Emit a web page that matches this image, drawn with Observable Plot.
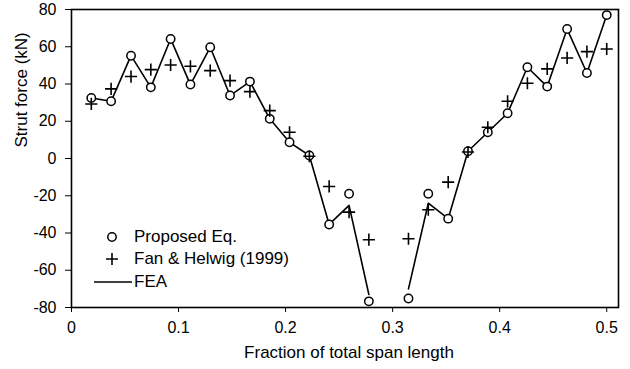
<!DOCTYPE html>
<html><head><meta charset="utf-8">
<script src="https://cdn.jsdelivr.net/npm/d3@7"></script>
<script src="https://cdn.jsdelivr.net/npm/@observablehq/plot@0.6"></script>
<style>
body{margin:0;background:#fff;}
#wrap{position:relative;width:630px;height:369px;font-family:"Liberation Sans",Arial,sans-serif;}
.row{position:absolute;display:flex;align-items:center;height:20px;font-size:17px;color:#000;white-space:nowrap;}
.row svg{display:block;}
</style></head><body><div id="wrap"></div>
<script>
// Fraction of total span length for each strut
const span = [0.0185,0.0370,0.0556,0.0741,0.0926,0.1111,0.1296,0.1481,0.1667,0.1852,0.2037,0.2222,0.2407,0.2593,0.2778,0.2963,0.3148,0.3333,0.3519,0.3704,0.3889,0.4074,0.4259,0.4444,0.4630,0.4815,0.5000];
// Strut force (kN)
const proposed = [32.5,30.7,55.2,38.2,64.2,39.7,59.7,33.8,41.3,21.3,8.7,1.6,-35.4,-18.9,-76.7,null,-75.2,-18.9,-32.3,3.9,14.1,24.3,49.0,38.6,69.5,45.9,77.0];
const fan = [29.3,37.4,44.0,47.7,50.2,49.5,47.2,41.8,35.9,25.7,14.1,1.2,-15.0,-28.8,-43.6,null,-43.1,-27.5,-12.7,3.5,16.8,30.7,40.4,48.1,54.0,57.4,58.8];
const fea = [32.5,30.7,55.2,38.2,64.2,39.7,59.7,33.8,41.3,21.3,8.7,1.6,-35.4,-25.2,-73.0,null,-70.0,-24.0,-32.3,3.9,14.1,24.3,49.0,38.6,69.5,45.9,77.0];
const xTicks = [0,0.1,0.2,0.3,0.4,0.5];
const yTicks = [-80,-60,-40,-20,0,20,40,60,80];
const xLabel = "Fraction of total span length";
const yLabel = "Strut force (kN)";
const seriesNames = ["Proposed Eq.","Fan & Helwig (1999)","FEA"];

const rows = span.map((x,i)=>({x, proposed: proposed[i], fan: fan[i], fea: fea[i]}));

const chart = Plot.plot({
  width:630, height:369,
  marginLeft:71, marginRight:12, marginTop:9, marginBottom:62,
  style:{fontFamily:'"Liberation Sans", Arial, sans-serif', fontSize:"16px", color:"#000", background:"#fff"},
  x:{domain:[0,0.511], ticks:xTicks, tickFormat:d=>String(d), tickSize:5, tickPadding:9, label:null},
  y:{domain:[-80,80], ticks:yTicks, tickFormat:d=>String(d), tickSize:6, tickPadding:9, label:null},
  marks:[
    Plot.frame({stroke:"#000", strokeWidth:1.6}),
    Plot.text([yLabel], {text:d=>d, frameAnchor:"left", rotate:-90, dx:-50, dy:-11, fontSize:17, fill:"#000"}),
    Plot.text([xLabel], {text:d=>d, frameAnchor:"bottom", dy:45, dx:4, fontSize:17, fill:"#000", lineAnchor:"middle"}),
    Plot.line(rows,{x:"x", y:"fea", stroke:"#000", strokeWidth:1.6}),
    Plot.dot(rows,{x:"x", y:"proposed", r:4.2, stroke:"#000", fill:"#fff", strokeWidth:1.5}),
    Plot.dot(rows,{x:"x", y:"fan", symbol:"plus", r:4, stroke:"#000", strokeWidth:1.6})
  ]
});
const wrap = document.getElementById("wrap");
wrap.appendChild(chart);

// legend overlay
function row(left, cy, svg, text, gap){
  const d = document.createElement("div");
  d.className = "row";
  d.style.left = left + "px";
  d.style.top = (cy - 10) + "px";
  d.innerHTML = svg + `<span style="margin-left:${gap}px">${text.replace(/&/g,"&amp;")}</span>`;
  wrap.appendChild(d);
}
row(100, 237, '<svg width="24" height="20"><circle cx="12" cy="10" r="4.2" fill="#fff" stroke="#000" stroke-width="1.5"/></svg>', seriesNames[0], 10);
row(100, 259, '<svg width="24" height="20"><path d="M6,10H18M12,4V16" stroke="#000" stroke-width="1.6"/></svg>', seriesNames[1], 10);
row(94, 282, '<svg width="38" height="20"><path d="M0,10H38" stroke="#000" stroke-width="1.6"/></svg>', seriesNames[2], 2);
</script></body></html>
